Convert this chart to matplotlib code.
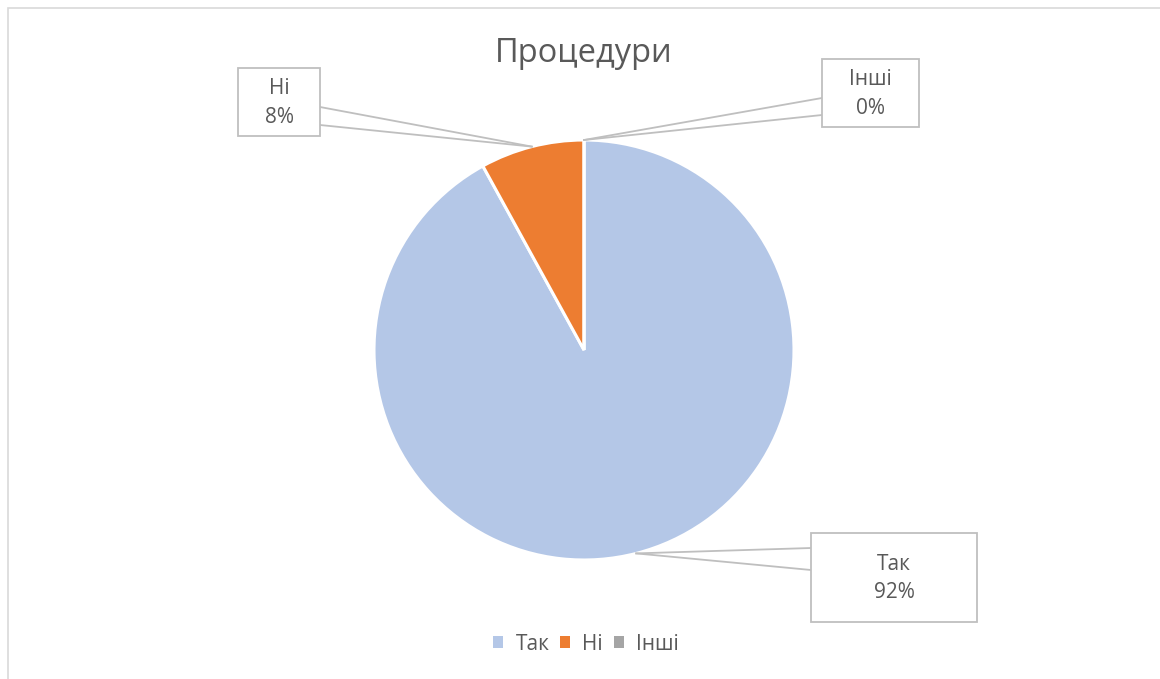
import matplotlib.pyplot as plt
from matplotlib import font_manager as fm
from matplotlib.patches import Rectangle, Patch
import numpy as np

title = "Процедури"
categories = ["Так", "Ні", "Інші"]
shares = [92, 8, 0]
colors = ["#B4C7E7", "#ED7D31", "#A5A5A5"]

W, H = 1160, 679
TXT = "#595959"
LINE = "#BFBFBF"

# pie geometry, pixel units, y from top
cx, cy, r = 584, 350, 210

# callout boxes: (left, top, right, bottom), and the two y's where the leader leaves the box
boxes = {
    "Так": ((811, 533, 977, 622), "left", (548, 570)),
    "Ні": ((238, 68, 320, 136), "right", (107, 125)),
    "Інші": ((822, 59, 919, 127), "left", (98, 115)),
}


def pick_font():
    # avoid the condensed face that sometimes wins the name match
    for f in fm.fontManager.ttflist:
        low = f.fname.lower()
        if (f.name == "Open Sans" and f.style == "normal" and "condensed" not in low
                and "semi" not in low and f.weight in (400, "normal", "regular")
                and f.stretch in ("normal", 500)):
            return f.fname
    return None


FONT_FILE = pick_font()


def fp(size):
    if FONT_FILE:
        return fm.FontProperties(fname=FONT_FILE, size=size)
    return fm.FontProperties(family=["Open Sans", "DejaVu Sans"], size=size)


def fy(y):
    return H - y


fig = plt.figure(figsize=(W / 100, H / 100), dpi=100)
ax = fig.add_axes([0, 0, 1, 1])

wedges, _ = ax.pie(shares, colors=colors, startangle=90, counterclock=False,
                   center=(cx, fy(cy)), radius=r,
                   wedgeprops=dict(edgecolor="white", linewidth=2.2))

# pie() resets the limits, so set them afterwards
ax.set_xlim(0, W)
ax.set_ylim(0, H)
ax.set_aspect("equal")
ax.axis("off")

# outer frame (only top and left visible)
ax.add_patch(Rectangle((8, fy(H + 20)), W + 20, H + 12, fill=False,
                       edgecolor="#D9D9D9", linewidth=1.2, zorder=0))

total = sum(shares)
start = 0.0
for name, val in zip(categories, shares):
    mid = start + val / total * 360 / 2  # degrees clockwise from top
    start += val / total * 360
    ax_x = cx + r * np.sin(np.radians(mid))
    ax_y = cy - r * np.cos(np.radians(mid))
    (l, t, rr, b), side, ys = boxes[name]
    ex = l if side == "left" else rr
    for yy in ys:
        ax.plot([ex, ax_x], [fy(yy), fy(ax_y)], color=LINE, lw=1.3, zorder=3)
    ax.add_patch(Rectangle((l, fy(b)), rr - l, b - t, facecolor="white",
                           edgecolor=LINE, linewidth=1.3, zorder=4))
    ax.text((l + rr) / 2, fy((t + b) / 2 + 1), f"{name}\n{val}%", ha="center",
            va="center", fontproperties=fp(15), color=TXT, linespacing=1.5, zorder=5)

ax.text(cx, fy(53), title, ha="center", va="center", fontproperties=fp(23.5), color=TXT)

handles = [Patch(facecolor=c, edgecolor="none") for c in colors]
ax.legend(handles, categories, loc="center", bbox_to_anchor=(586 / W, 1 - 644 / H),
          ncol=3, frameon=False, prop=fp(15), handlelength=0.48, handleheight=0.48,
          handletextpad=0.6, columnspacing=0.5, labelcolor=TXT)

fig.savefig("out.png", dpi=100)
